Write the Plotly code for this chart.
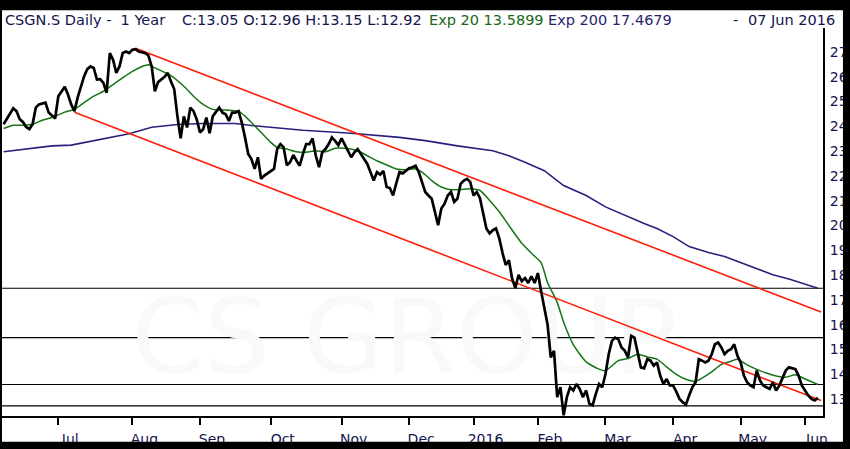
import pandas as pd
import plotly.graph_objects as go

# SIX trading calendar, 1 year of daily sessions
HOLIDAYS = ["2015-12-24", "2015-12-25", "2015-12-31", "2016-01-01",
            "2016-03-25", "2016-03-28", "2016-05-05", "2016-05-16"]
sessions = pd.bdate_range("2015-06-08", "2016-06-08", freq="C", holidays=HOLIDAYS)

# close prices (session number -> close)
close_idx = [0, 1, 3, 4, 5, 6, 7, 8, 9, 10, 11, 13, 14, 16, 17, 19, 20, 21, 22, 23,
             25, 26, 27, 28, 29, 30, 31, 32, 33, 34, 35, 36, 37, 38, 39, 40, 41, 42, 44, 45,
             46, 47, 48, 50, 51, 52, 53, 54, 55, 56, 57, 58, 59, 60, 61, 62, 63, 64, 65, 67,
             68, 69, 70, 71, 72, 73, 74, 75, 76, 77, 78, 79, 80, 81, 83, 84, 85, 86, 87, 88,
             89, 90, 91, 92, 93, 94, 95, 96, 97, 98, 99, 100, 101, 102, 103, 104, 105, 106, 107, 108,
             109, 110, 111, 112, 113, 114, 115, 116, 117, 118, 119, 120, 121, 122, 123, 124, 125, 126, 127, 128,
             129, 130, 131, 132, 133, 134, 135, 136, 137, 138, 139, 140, 141, 142, 143, 144, 145, 146, 147, 148,
             149, 150, 151, 152, 153, 154, 155, 156, 157, 158, 159, 160, 161, 162, 163, 164, 165, 166, 167, 168,
             169, 170, 171, 172, 173, 174, 175, 176, 177, 178, 179, 180, 181, 182, 183, 184, 185, 186, 187, 188,
             189, 190, 191, 192, 193, 194, 195, 196, 197, 198, 199, 200, 201, 202, 203, 204, 205, 206, 207, 208,
             209, 210, 211, 212, 213, 214, 215, 216, 217, 218, 219, 220, 221, 222, 223, 224, 225, 226, 227, 228,
             229, 230, 231, 232, 233, 234, 235, 236, 237, 238, 239, 240, 241, 242, 243, 244, 245, 246, 247, 248,
             249, 250, 251, 252, 253]
close_val = [24.08, 24.28, 24.72, 24.61, 24.28, 24.17, 23.97, 23.88, 24.08, 24.75, 24.88, 24.95, 24.55, 24.31, 25.21, 25.59, 25.28, 24.88, 24.61, 25.15,
             26.01, 26.3, 26.41, 26.35, 25.88, 25.9, 25.75, 25.35, 26.95, 26.68, 26.15, 26.41, 26.95, 27.01, 26.95, 27.08, 27.11, 27.01, 26.95, 26.85,
             26.41, 25.41, 25.78, 25.99, 26.15, 25.8, 25.5, 24.41, 23.51, 24.4, 23.95, 24.75, 24.61, 24.28, 23.75, 23.88, 24.35, 23.72, 24.41, 24.75,
             24.55, 24.48, 24.21, 24.55, 24.55, 24.61, 24.15, 23.55, 22.88, 22.68, 22.28, 22.75, 21.88, 22.01, 22.21, 22.28, 23.08, 23.28, 23.15, 22.43,
             22.55, 22.84, 22.61, 22.41, 22.88, 23.28, 23.28, 23.51, 22.81, 22.35, 22.95, 23.08, 23.28, 23.55, 23.41, 23.24, 23.51, 23.28, 23.01, 22.75,
             22.95, 23.08, 22.88, 22.68, 22.48, 22.15, 21.81, 22.15, 22.05, 22.2, 21.55, 21.51, 21.21, 21.7, 22.15, 22.1, 22.21, 22.31, 22.35, 22.41,
             22.15, 21.75, 21.35, 21.21, 21.08, 20.55, 20.01, 20.68, 20.88, 21.21, 21.35, 20.95, 21.08, 21.68, 21.81, 21.88, 21.75, 21.21, 21.35, 21.1,
             20.5, 19.88, 19.68, 19.81, 19.88, 19.48, 18.9, 18.41, 18.6, 17.85, 17.48, 18.01, 17.75, 17.88, 17.68, 17.95, 17.68, 18.08, 17.35, 16.68,
             16.01, 14.68, 14.95, 13.08, 13.48, 12.35, 13.08, 13.48, 13.35, 13.61, 13.41, 13.08, 13.35, 12.81, 12.75, 13.21, 13.61, 13.48, 14.01, 14.81,
             15.35, 15.48, 15.41, 15.08, 14.95, 14.68, 15.55, 15.48, 14.88, 14.28, 14.24, 14.61, 14.55, 14.35, 14.48, 13.95, 13.61, 13.81, 13.55, 13.55,
             13.3, 13.01, 12.88, 12.78, 13.15, 13.48, 13.68, 14.61, 14.55, 14.48, 14.55, 14.81, 15.21, 15.28, 15.08, 14.81, 14.95, 15.01, 15.21, 14.75,
             14.48, 13.95, 13.68, 13.55, 13.48, 14.15, 13.75, 13.55, 13.48, 13.41, 13.68, 13.35, 13.55, 13.88, 14.15, 14.28, 14.25, 14.21, 13.95, 13.55,
             13.35, 13.15, 13.01, 12.95, 13.05]

# Exp 20 moving average
ema20_idx = [0, 3, 6, 9, 12, 15, 19, 22, 25, 28, 31, 34, 37, 40, 43, 45, 47, 50, 52, 56,
             59, 62, 65, 69, 73, 75, 77, 80, 83, 85, 88, 91, 94, 97, 100, 103, 106, 110, 113, 116,
             119, 122, 125, 128, 130, 133, 136, 139, 142, 145, 148, 151, 154, 157, 161, 164, 167, 169, 172, 174,
             177, 181, 185, 187, 191, 194, 197, 200, 203, 206, 209, 212, 215, 217, 220, 223, 226, 228, 231, 234,
             237, 240, 243, 246, 249, 253]
ema20_val = [23.91, 24.04, 24.04, 24.08, 24.24, 24.35, 24.57, 24.68, 24.95, 25.21, 25.41, 25.68, 25.95, 26.21, 26.41, 26.48, 26.35, 26.17, 26.04, 25.61,
             25.21, 24.88, 24.68, 24.65, 24.61, 24.41, 24.15, 23.75, 23.35, 23.15, 23.08, 22.97, 22.95, 23.01, 22.97, 23.11, 23.11, 23.01, 22.81, 22.61,
             22.44, 22.28, 22.25, 22.28, 22.15, 21.81, 21.55, 21.44, 21.45, 21.48, 21.41, 21.01, 20.55, 20.0, 19.28, 18.88, 18.5, 17.7, 16.9, 16.1,
             15.2, 14.5, 14.21, 14.15, 14.55, 14.64, 14.81, 14.7, 14.61, 14.3, 14.0, 13.8, 13.72, 13.85, 14.1, 14.4, 14.53, 14.61, 14.38, 14.2,
             14.05, 13.93, 13.88, 13.98, 13.81, 13.59]

# Exp 200 moving average
ema200_idx = [0, 15, 21, 31, 39, 46, 54, 62, 72, 77, 93, 108, 123, 131, 141, 152, 157, 162, 168, 174,
              181, 187, 193, 199, 203, 208, 213, 219, 224, 229, 234, 239, 244, 249, 253]
ema200_val = [22.97, 23.21, 23.24, 23.5, 23.7, 23.96, 24.07, 24.11, 24.11, 24.03, 23.84, 23.72, 23.55, 23.42, 23.21, 23.01, 22.81, 22.55, 22.21, 21.61,
              21.21, 20.75, 20.41, 20.08, 19.88, 19.55, 19.15, 18.91, 18.75, 18.51, 18.24, 18.01, 17.84, 17.65, 17.47]

# channel lines
upper_dates = ["2015-08-04", "2016-06-08"]
upper_vals = [27.14, 16.51]
lower_dates = ["2015-07-08", "2016-06-08"]
lower_vals = [24.56, 12.94]

# support / resistance levels
levels = [17.47, 15.48, 13.59, 12.73]

tick_dates = ["2015-07-01", "2015-08-03", "2015-09-01", "2015-10-01", "2015-11-02", "2015-12-01",
              "2016-01-04", "2016-02-01", "2016-03-01", "2016-04-01", "2016-05-02", "2016-06-01"]
tick_text = ["Jul", "Aug", "Sep", "Oct", "Nov", "Dec", "2016", "Feb", "Mar", "Apr", "May", "Jun"]
y_ticks = list(range(13, 28))

W, H = 850, 449
L, R, T, B = 2, 25, 28, 30
NAVY = "#14144e"
FONT = "DejaVu Sans"


def px_x(px):
    return (px - L) / (W - L - R)


def px_y(py):
    return (H - B - py) / (H - T - B)


fig = go.Figure()

fig.add_trace(go.Scatter(x=sessions[ema200_idx], y=ema200_val, mode="lines",
                         line=dict(color="#2b1f7c", width=1.6)))
fig.add_trace(go.Scatter(x=sessions[ema20_idx], y=ema20_val, mode="lines",
                         line=dict(color="#157515", width=1.5, shape="spline", smoothing=0.6)))
fig.add_trace(go.Scatter(x=upper_dates, y=upper_vals, mode="lines",
                         line=dict(color="#ff1e0a", width=1.6)))
fig.add_trace(go.Scatter(x=lower_dates, y=lower_vals, mode="lines",
                         line=dict(color="#ff1e0a", width=1.6)))
fig.add_trace(go.Scatter(x=sessions[close_idx], y=close_val, mode="lines",
                         line=dict(color="black", width=2.7)))

shapes = []
for lv in levels:
    shapes.append(dict(type="line", xref="paper", yref="y", x0=0, x1=1, y0=lv, y1=lv,
                       line=dict(color="black", width=1.2), layer="below"))

# faint watermark
shapes.append(dict(type="rect", xref="paper", yref="paper",
                   x0=px_x(120), x1=px_x(690), y0=px_y(372), y1=px_y(292),
                   line=dict(width=0), layer="below",
                   label=dict(text="CS GROUP", textposition="middle center",
                              font=dict(family=FONT, size=104, color="#f8f9f9"))))

# black frame
for x0, x1, y0, y1 in [(-5, 855, -5, 10), (-5, 2, -5, 455), (845, 855, -5, 455), (-5, 855, 445, 455)]:
    shapes.append(dict(type="rect", xref="paper", yref="paper",
                       x0=px_x(x0), x1=px_x(x1), y0=px_y(y1), y1=px_y(y0),
                       fillcolor="black", line=dict(width=0), layer="above"))

header = [
    ("CSGN.S Daily -  1 Year", 3, NAVY, "left"),
    ("C:13.05 O:12.96 H:13.15 L:12.92", 180, NAVY, "left"),
    ("Exp 20 13.5899", 428, "#176817", "left"),
    ("Exp 200 17.4679", 547, "#2b1f6e", "left"),
    ("-", 733, NAVY, "left"),
    ("07 Jun 2016", 839, NAVY, "right"),
]
annotations = [dict(text=t, x=px_x(x), y=px_y(20), xref="paper", yref="paper",
                    xanchor=a, yanchor="middle", showarrow=False,
                    font=dict(family=FONT, size=14.5, color=c)) for t, x, c, a in header]

fig.update_layout(
    width=W, height=H,
    margin=dict(l=L, r=R, t=T, b=B),
    paper_bgcolor="white", plot_bgcolor="white",
    showlegend=False, hovermode=False,
    shapes=shapes, annotations=annotations,
    font=dict(family=FONT, size=13, color=NAVY),
    xaxis=dict(
        type="date",
        range=["2015-06-05 12:00", "2016-06-08 14:00"],
        rangebreaks=[dict(bounds=["sat", "mon"]), dict(values=HOLIDAYS)],
        tickvals=tick_dates, ticktext=tick_text,
        ticks="outside", ticklen=7, tickwidth=2, tickcolor="black",
        ticklabelshift=12, ticklabelstandoff=2,
        showline=True, linecolor="black", linewidth=2,
        showgrid=False, zeroline=False,
        tickfont=dict(family=FONT, size=14, color=NAVY),
    ),
    yaxis=dict(
        side="right",
        range=[12.32, 27.96],
        tickvals=y_ticks,
        ticks="", ticklabelstandoff=2,
        showline=True, linecolor="black", linewidth=2,
        showgrid=False, zeroline=False,
        tickfont=dict(family=FONT, size=14, color=NAVY),
    ),
)

fig.write_html("out.html", config={"displayModeBar": False},
               post_script="document.body.style.margin='0';document.body.style.overflow='hidden';")
